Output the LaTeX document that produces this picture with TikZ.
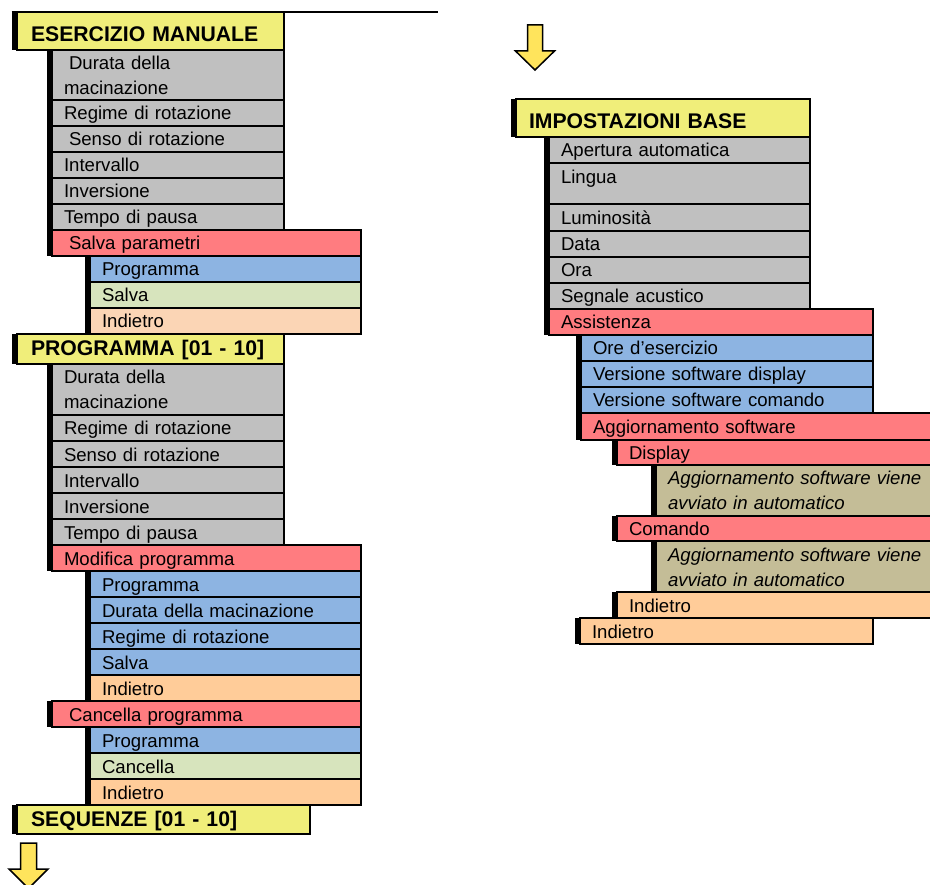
\documentclass[tikz,border=0pt]{standalone}
\usepackage{fontspec}
\setmainfont{Liberation Sans}
\definecolor{hdrc}{RGB}{240,238,122}
\definecolor{grayc}{RGB}{192,192,192}
\definecolor{redc}{RGB}{255,124,128}
\definecolor{bluec}{RGB}{141,180,226}
\definecolor{greenc}{RGB}{215,228,189}
\definecolor{peachA}{RGB}{251,213,181}
\definecolor{peachB}{RGB}{255,204,153}
\definecolor{tanc}{RGB}{196,189,151}
\definecolor{arrowc}{RGB}{255,228,92}
\tikzset{
  cell/.style={draw=black, line width=1.5pt, anchor=north west, inner xsep=12pt, inner ysep=0pt,
    outer sep=0pt, align=left, font=\fontsize{18.6}{25}\selectfont, text height=18pt, text depth=4pt},
  hdr/.style={fill=hdrc, font=\bfseries\fontsize{21.2}{25}\selectfont, text depth=0pt},
  hdrtall/.style={hdr, text height=20.5pt},
  hdrlow/.style={hdr, text height=13.5pt},
  gry/.style={fill=grayc},
  rd/.style={fill=redc},
  bl/.style={fill=bluec},
  gr/.style={fill=greenc},
  pA/.style={fill=peachA},
  pB/.style={fill=peachB},
  tn/.style={fill=tanc, font=\itshape\fontsize{18.6}{25}\selectfont},
  twoline/.style={text depth=29pt},
  downarrow/.style={draw=black, line width=1.5pt, fill=arrowc, line join=miter},
}
\newcommand\mcell[7]{%
  \pgfmathsetmacro\mcw{#5-#3-24}%
  \pgfmathsetmacro\mch{#6-#4}%
  \node[cell,#2,text width=\mcw pt,minimum height=\mch pt] (#1) at (#3,#4) {#7};%
  \fill ([xshift=-5.5pt]#1.north west) rectangle (#1.south west);%
}
\begin{document}
\begin{tikzpicture}[x=1pt,y=-1pt]
\path[use as bounding box] (0,0) rectangle (930,885);
\clip (0,0) rectangle (930,885);
% ---------- left column ----------
\mcell{h1}{hdrtall}{17}{12}{284}{50}{\hspace{2pt}ESERCIZIO MANUALE}
\coordinate (topend) at (438,12);
\draw[line width=2pt] ([xshift=-5.5pt]h1.north west) -- (topend);
\mcell{g1}{gry,twoline}{52}{50}{284}{100}{\hspace{5pt}Durata della\\macinazione}
\mcell{g2}{gry}{52}{100}{284}{126}{Regime di rotazione}
\mcell{g3}{gry}{52}{126}{284}{152}{\hspace{5pt}Senso di rotazione}
\mcell{g4}{gry}{52}{152}{284}{178}{Intervallo}
\mcell{g5}{gry}{52}{178}{284}{204}{Inversione}
\mcell{g6}{gry}{52}{204}{284}{230}{Tempo di pausa}
\mcell{r1}{rd}{52}{230}{361}{256}{\hspace{5pt}Salva parametri}
\mcell{b1}{bl}{90}{256}{361}{282}{Programma}
\mcell{gr1}{gr}{90}{282}{361}{308}{Salva}
\mcell{p1}{pA}{90}{308}{361}{334}{Indietro}
\mcell{h2}{hdrlow}{17}{334}{284}{364}{\hspace{2pt}PROGRAMMA [01 - 10]}
\mcell{g7}{gry,twoline}{52}{364}{284}{415}{Durata della\\macinazione}
\mcell{g8}{gry}{52}{415}{284}{441}{Regime di rotazione}
\mcell{g9}{gry}{52}{441}{284}{467}{Senso di rotazione}
\mcell{g10}{gry}{52}{467}{284}{493}{Intervallo}
\mcell{g11}{gry}{52}{493}{284}{519}{Inversione}
\mcell{g12}{gry}{52}{519}{284}{545}{Tempo di pausa}
\mcell{r2}{rd}{52}{545}{361}{571}{Modifica programma}
\mcell{b2}{bl}{90}{571}{361}{597}{Programma}
\mcell{b3}{bl}{90}{597}{361}{623}{Durata della macinazione}
\mcell{b4}{bl}{90}{623}{361}{649}{Regime di rotazione}
\mcell{b5}{bl}{90}{649}{361}{675}{Salva}
\mcell{p2}{pB}{90}{675}{361}{701}{Indietro}
\mcell{r3}{rd}{52}{701}{361}{727}{\hspace{5pt}Cancella programma}
\mcell{b6}{bl}{90}{727}{361}{753}{Programma}
\mcell{gr2}{gr}{90}{753}{361}{779}{Cancella}
\mcell{p3}{pB}{90}{779}{361}{805}{Indietro}
\mcell{h3}{hdrlow}{17}{805}{310}{834}{\hspace{2pt}SEQUENZE [01 - 10]}
% ---------- right column ----------
\mcell{h4}{hdrtall}{516}{99}{810}{137}{\hspace{1pt}IMPOSTAZIONI BASE}
\mcell{g13}{gry}{549}{137}{810}{163}{Apertura automatica}
\mcell{g14}{gry,text depth=18pt}{549}{163}{810}{204}{Lingua}
\mcell{g15}{gry}{549}{204}{810}{231}{Luminosità}
\mcell{g16}{gry}{549}{231}{810}{257}{Data}
\mcell{g17}{gry}{549}{257}{810}{283}{Ora}
\mcell{g18}{gry}{549}{283}{810}{309}{Segnale acustico}
\mcell{r4}{rd}{549}{309}{873}{335}{Assistenza}
\mcell{b7}{bl}{581}{335}{873}{361}{Ore d’esercizio}
\mcell{b8}{bl}{581}{361}{873}{387}{Versione software display}
\mcell{b9}{bl}{581}{387}{873}{413}{Versione software comando}
\mcell{r5}{rd}{581}{413}{940}{440}{Aggiornamento software}
\mcell{r6}{rd}{617}{440}{940}{465}{Display}
\mcell{t1}{tn,twoline}{656}{465}{940}{516}{Aggiornamento software viene\\avviato in automatico}
\mcell{r7}{rd}{617}{516}{940}{541}{Comando}
\mcell{t2}{tn,twoline}{656}{541}{940}{592}{Aggiornamento software viene\\avviato in automatico}
\mcell{p4}{pB}{617}{592}{940}{618}{Indietro}
\mcell{p5}{pB}{580}{618}{873}{644}{Indietro}
% ---------- arrows ----------
\draw[downarrow] (527.5,25) -- (542.5,25) -- (542.5,51) -- (554.5,51) -- (535,70) -- (515.5,51) -- (527.5,51) -- cycle;
\draw[downarrow] (20.5,843) -- (36.5,843) -- (36.5,869) -- (48,869) -- (28.5,888.5) -- (9,869) -- (20.5,869) -- cycle;
\end{tikzpicture}
\end{document}
